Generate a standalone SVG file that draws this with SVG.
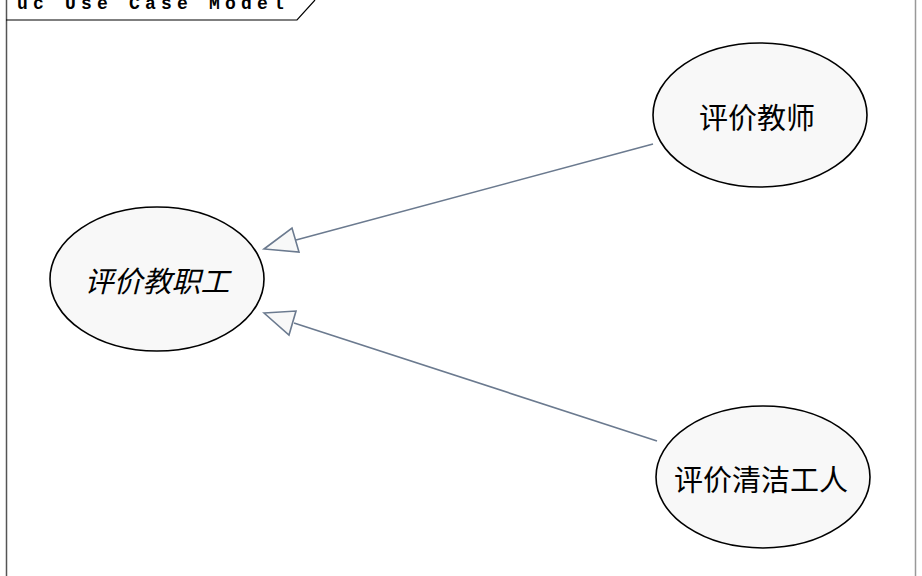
<svg xmlns="http://www.w3.org/2000/svg" width="922" height="576" viewBox="0 0 922 576">
<style>
.uc ellipse{fill:#f8f8f8;stroke:#000;stroke-width:1.6}
.uc text{font-family:"Noto Sans CJK SC","Noto Sans CJK JP",sans-serif;font-size:29px;fill:#000;text-anchor:middle;dominant-baseline:central}
.conn line{stroke:#6b7a8f;stroke-width:1.6}
.conn polygon{fill:#f8f8f8;stroke:#6b7a8f;stroke-width:1.6;stroke-linejoin:miter}
</style>
<rect width="922" height="576" fill="#fff"/>
<g id="frame">
<line x1="6.5" y1="0" x2="6.5" y2="576" stroke="#555" stroke-width="1.5"/>
<line x1="915.5" y1="0" x2="915.5" y2="576" stroke="#999" stroke-width="1.5"/>
<polyline points="6,20 297,20 315,0" fill="none" stroke="#000" stroke-width="1.2"/>
<text x="17" y="9" font-family="Liberation Mono, monospace" font-size="18" font-weight="bold" letter-spacing="5.2" fill="#000">uc Use Case Model</text>
</g>
<g id="connectors" class="conn">
<line x1="653" y1="144" x2="296" y2="240"/>
<polygon points="264,249 292,228 299,252"/>
<line x1="657" y1="441" x2="294" y2="323"/>
<polygon points="264,313 296,311 289,335"/>
</g>
<g id="n-staff" class="uc">
<ellipse cx="157" cy="279" rx="107" ry="72"/>
<text x="157" y="279" font-style="italic">评价教职工</text>
</g>
<g id="n-teacher" class="uc">
<ellipse cx="760" cy="115" rx="107" ry="72"/>
<text x="757" y="116">评价教师</text>
</g>
<g id="n-cleaner" class="uc">
<ellipse cx="763" cy="477" rx="107" ry="71"/>
<text x="761" y="478">评价清洁工人</text>
</g>
</svg>
